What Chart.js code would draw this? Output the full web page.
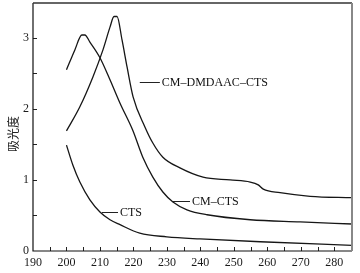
<!DOCTYPE html>
<html>
<head>
<meta charset="utf-8">
<script src="https://cdn.jsdelivr.net/npm/chart.js@4.4.1/dist/chart.umd.min.js"></script>
<style>
    html, body { margin: 0; padding: 0; background: #fff; }
    #wrap { width: 360px; height: 273px; }
</style>
</head>
<body>
<div id="wrap"><canvas id="absChart" width="360" height="273"></canvas></div>
<script>
// wavelength (nm) / absorbance
const dmdaacX = [200, 204, 207.9, 210.9, 213, 214.2, 215.1, 216.6, 218.1, 219.9, 223.4, 225.8, 228.8, 233.9, 240.8, 248.9, 254.9, 257.3, 258.8, 263.8, 272.8, 285.4];
const dmdaacY = [1.69, 2.03, 2.45, 2.83, 3.15, 3.30, 3.30, 2.97, 2.59, 2.17, 1.75, 1.52, 1.32, 1.17, 1.04, 1.00, 0.97, 0.93, 0.87, 0.82, 0.77, 0.75];

const cmctsX = [200, 202.5, 204.6, 205.5, 207, 210, 213, 216, 219.8, 222.8, 225.8, 228.8, 231.8, 236, 242, 254.9, 269.8, 285.4];
const cmctsY = [2.55, 2.83, 3.04, 3.04, 2.94, 2.72, 2.41, 2.08, 1.70, 1.32, 1.04, 0.83, 0.69, 0.58, 0.51, 0.44, 0.41, 0.38];

const ctsX = [200, 201.9, 204, 207, 210, 213, 216, 221.9, 230, 239.9, 257.9, 285.4];
const ctsY = [1.49, 1.21, 0.97, 0.72, 0.55, 0.44, 0.37, 0.25, 0.20, 0.17, 0.13, 0.08];

const xTicks = [190, 200, 210, 220, 230, 240, 250, 260, 270, 280];
const yTicks = [0, 1, 2, 3];

// curve labels: text, leader start x, leader end x, y (data units)
const curveLabels = [
    ['CM–DMDAAC–CTS', 221.9, 227.9, 2.38],
    ['CM–CTS', 231.8, 236.9, 0.70],
    ['CTS', 210.6, 215.4, 0.55],
];

const yTitle = '吸光度';

function toPoints(xs, ys) {
    return xs.map((x, i) => ({ x: x, y: ys[i] }));
}

function curve(label, xs, ys) {
    return {
        label: label,
        data: toPoints(xs, ys),
        borderColor: '#161616',
        borderWidth: 1.3,
        pointRadius: 0,
        fill: false,
        cubicInterpolationMode: 'monotone',
    };
}

const serif = '"Liberation Serif", "DejaVu Serif", serif';

// frame, inward ticks, curve labels and axis title
const decorPlugin = {
    id: 'decor',
    afterDraw(chart) {
        const ctx = chart.ctx;
        const a = chart.chartArea;
        const xs = chart.scales.x;
        const ys = chart.scales.y;
        ctx.save();

        // inward ticks
        ctx.strokeStyle = '#222';
        ctx.lineWidth = 1;
        ctx.beginPath();
        for (let v = 195; v <= 280; v += 5) {
            const px = Math.round(xs.getPixelForValue(v)) + 0.5;
            ctx.moveTo(px, a.bottom);
            ctx.lineTo(px, a.bottom - 4);
        }
        for (let v = 0.5; v <= 3; v += 0.5) {
            const py = Math.round(ys.getPixelForValue(v)) + 0.5;
            ctx.moveTo(a.left, py);
            ctx.lineTo(a.left + 4, py);
        }
        ctx.stroke();

        // frame
        ctx.strokeStyle = '#111';
        ctx.lineWidth = 1.2;
        ctx.beginPath();
        ctx.moveTo(a.left, a.top);
        ctx.lineTo(a.left, a.bottom);
        ctx.lineTo(a.right, a.bottom);
        ctx.stroke();
        ctx.strokeStyle = '#333';
        ctx.lineWidth = 1.5;
        ctx.beginPath();
        ctx.moveTo(a.left, a.top);
        ctx.lineTo(a.right, a.top);
        ctx.stroke();
        ctx.strokeStyle = '#888';
        ctx.lineWidth = 2;
        ctx.beginPath();
        ctx.moveTo(a.right, a.top);
        ctx.lineTo(a.right, a.bottom);
        ctx.stroke();

        // curve labels with leaders
        ctx.font = '12px ' + serif;
        ctx.fillStyle = '#111';
        ctx.textBaseline = 'middle';
        ctx.textAlign = 'left';
        curveLabels.forEach(([text, x0, x1, y]) => {
            const py = Math.round(ys.getPixelForValue(y)) + 0.5;
            const p0 = xs.getPixelForValue(x0);
            const p1 = xs.getPixelForValue(x1);
            ctx.strokeStyle = '#222';
            ctx.lineWidth = 1;
            ctx.beginPath();
            ctx.moveTo(p0, py);
            ctx.lineTo(p1, py);
            ctx.stroke();
            ctx.fillText(text, p1 + 2, py + 0.5);
        });

        // y axis title
        ctx.translate(13, 134);
        ctx.rotate(-Math.PI / 2);
        ctx.textAlign = 'center';
        ctx.font = '12px "Noto Sans CJK SC"';
        ctx.fillStyle = '#222';
        ctx.fillText(yTitle, 0, 0);
        ctx.restore();
    }
};

const ctx = document.getElementById('absChart').getContext('2d');
new Chart(ctx, {
    type: 'line',
    data: {
        datasets: [
            curve('CM-DMDAAC-CTS', dmdaacX, dmdaacY),
            curve('CM-CTS', cmctsX, cmctsY),
            curve('CTS', ctsX, ctsY),
        ]
    },
    options: {
        responsive: false,
        animation: false,
        layout: { padding: { top: 3, right: 8, left: 0, bottom: 0 } },
        plugins: {
            legend: { display: false },
            tooltip: { enabled: false },
            title: { display: false },
        },
        scales: {
            x: {
                type: 'linear',
                min: 190,
                max: 285.3,
                grid: { display: false, drawTicks: false },
                border: { display: false },
                afterBuildTicks: (scale) => {
                    scale.ticks = xTicks.map(v => ({ value: v }));
                },
                afterFit: (scale) => {
                    scale.height = 22;
                    scale.paddingLeft = 0;
                    scale.paddingRight = 0;
                },
                ticks: {
                    padding: 5,
                    color: '#1a1a1a',
                    font: { family: serif, size: 12 },
                    maxRotation: 0,
                    autoSkip: false,
                },
            },
            y: {
                type: 'linear',
                min: 0,
                max: 3.49,
                grid: { display: false, drawTicks: false },
                border: { display: false },
                afterBuildTicks: (scale) => {
                    scale.ticks = yTicks.map(v => ({ value: v }));
                },
                afterFit: (scale) => {
                    scale.width = 33;
                    scale.paddingTop = 0;
                    scale.paddingBottom = 0;
                },
                ticks: {
                    padding: 4,
                    color: '#1a1a1a',
                    font: { family: serif, size: 12 },
                },
            },
        },
    },
    plugins: [decorPlugin],
});
</script>
</body>
</html>
